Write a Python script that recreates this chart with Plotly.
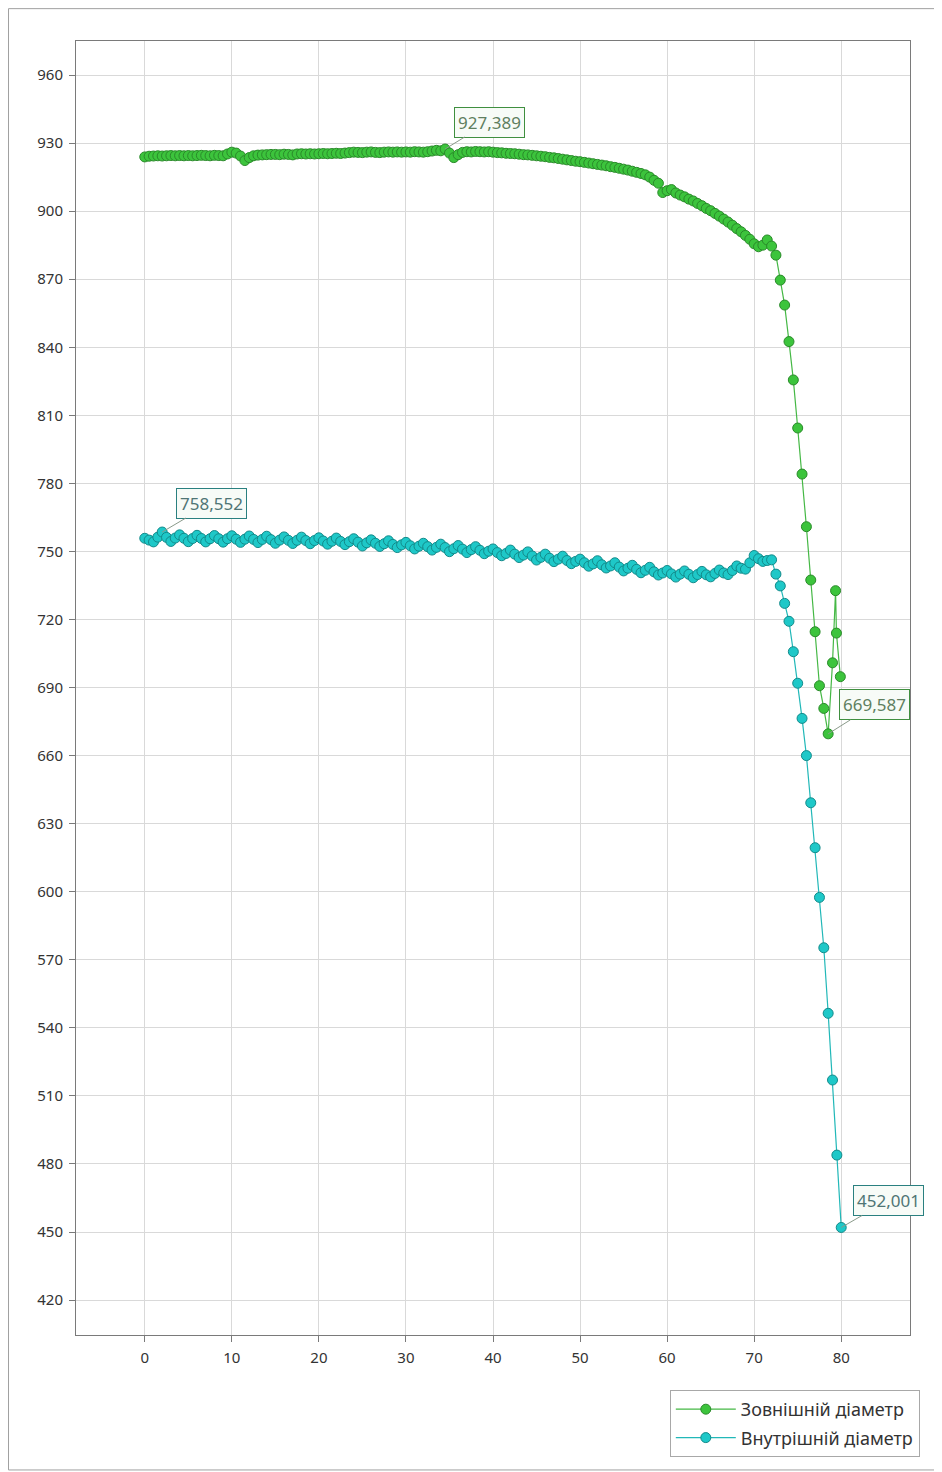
import plotly.graph_objects as go

# ---------------- data ----------------
outer_name = "Зовнішній діаметр"
inner_name = "Внутрішній діаметр"

x_outer = [i / 2 for i in range(158)] + [79.0, 79.35, 79.45, 79.9]
outer_diam = [
    923.9, 924.2, 924.3, 924.4, 924.3, 924.4, 924.5, 924.4, 924.5, 924.4,
    924.5, 924.4, 924.5, 924.6, 924.5, 924.4, 924.6, 924.5, 924.4, 925.2,
    926.0, 925.6, 924.3, 922.3, 923.6, 924.4, 924.7, 924.8, 924.9, 925.0,
    925.0, 924.9, 925.1, 925.0, 924.8, 925.2, 925.3, 925.2, 925.3, 925.2,
    925.3, 925.4, 925.3, 925.4, 925.5, 925.4, 925.6, 925.8, 926.0, 925.9,
    925.8, 926.0, 926.1, 925.9, 925.8, 926.0, 926.1, 926.0, 926.1, 926.0,
    926.1, 926.0, 926.2, 926.1, 926.0, 926.2, 926.5, 926.8, 926.6, 927.389,
    925.6, 923.6, 924.9, 925.9, 926.2, 926.1, 926.3, 926.2, 926.1, 926.2,
    926.0, 925.8, 925.7, 925.5, 925.4, 925.3, 925.1, 924.9, 924.8, 924.6,
    924.4, 924.2, 924.0, 923.7, 923.5, 923.2, 922.9, 922.6, 922.3, 922.0,
    921.8, 921.5, 921.2, 920.9, 920.6, 920.3, 920.0, 919.6, 919.3, 918.9,
    918.5, 918.1, 917.6, 917.1, 916.6, 916.0, 915.0, 913.6, 912.3, 908.2,
    909.0, 909.5, 908.0, 907.1, 906.3, 905.3, 904.5, 903.4, 902.4, 901.2,
    900.2, 899.0, 897.8, 896.5, 895.2, 893.8, 892.3, 890.9, 889.3, 887.6,
    885.6, 884.3, 885.0, 887.3, 884.6, 880.6, 869.6, 858.6, 842.5, 825.6,
    804.4, 784.1, 760.9, 737.4, 714.6, 690.8, 680.8, 669.587,
    700.9, 732.7, 714.0, 694.8,
]

x_inner = [i / 2 for i in range(161)]
inner_diam = [
    755.8, 755.0, 754.2, 756.3, 758.552, 756.2, 754.4, 755.9, 757.3, 755.8,
    754.3, 755.7, 757.1, 755.7, 754.2, 755.6, 757.0, 755.6, 754.1, 755.6,
    756.9, 755.4, 754.0, 755.4, 756.8, 755.3, 753.9, 755.3, 756.7, 755.2,
    753.6, 755.0, 756.4, 754.9, 753.5, 754.9, 756.3, 754.8, 753.4, 754.8,
    756.0, 754.6, 753.2, 754.5, 755.9, 754.4, 753.0, 754.3, 755.6, 754.1,
    752.4, 753.8, 755.1, 753.6, 752.2, 753.4, 754.7, 753.1, 751.7, 752.9,
    754.0, 752.5, 751.1, 752.3, 753.6, 752.1, 750.6, 751.8, 753.2, 751.7,
    749.9, 751.2, 752.6, 751.0, 749.5, 750.8, 752.1, 750.5, 749.0, 750.1,
    751.1, 749.5, 748.1, 749.1, 750.6, 748.8, 747.3, 748.4, 749.8, 748.0,
    746.2, 747.4, 748.8, 747.0, 745.5, 746.6, 747.9, 746.0, 744.6, 745.6,
    746.6, 745.0, 743.5, 744.5, 745.9, 744.1, 742.7, 743.6, 745.0, 743.1,
    741.4, 742.6, 743.9, 742.1, 740.6, 741.7, 743.0, 741.0, 739.6, 740.5,
    741.6, 740.1, 738.7, 740.0, 741.4, 739.9, 738.4, 739.8, 741.2, 739.7,
    738.8, 740.3, 741.8, 740.5, 739.8, 741.6, 743.6, 742.6, 742.2, 745.0,
    748.2, 746.8, 745.6, 746.0, 746.3,
    740.0, 734.8, 727.1, 719.2, 705.8, 691.9, 676.4, 660.0,
    639.2, 619.4, 597.5, 575.3, 546.4, 517.0, 483.9, 452.001,
]

x_ticks = [0, 10, 20, 30, 40, 50, 60, 70, 80]
y_ticks = list(range(420, 961, 30))

# ---------------- style ----------------
FONT = "Noto Sans"
G_LINE, G_FILL, G_EDGE = "#45b845", "#3cc43c", "#2a8a2a"
C_LINE, C_FILL, C_EDGE = "#22b8b8", "#1ec8c8", "#138a8a"

fig = go.Figure()
fig.add_trace(go.Scatter(
    x=x_outer, y=outer_diam, mode="lines+markers", name=outer_name,
    legendgroup="a",
    line=dict(color=G_LINE, width=1.2),
    marker=dict(size=10, color=G_FILL, line=dict(color=G_EDGE, width=1)),
))
fig.add_trace(go.Scatter(
    x=x_inner, y=inner_diam, mode="lines+markers", name=inner_name,
    legendgroup="b",
    line=dict(color=C_LINE, width=1.2),
    marker=dict(size=10, color=C_FILL, line=dict(color=C_EDGE, width=1)),
))


def label(xv, yv, color, txtcolor, ax, ay):
    fig.add_annotation(
        x=xv, y=yv, text=f"{yv:.3f}".replace(".", ","),
        showarrow=True, arrowhead=0, arrowwidth=1, arrowcolor="#8a9a8a",
        ax=ax, ay=ay, standoff=0, startstandoff=0,
        bgcolor="#f7fbf7", bordercolor=color, borderwidth=1, borderpad=3,
        font=dict(family=FONT, size=17, color=txtcolor),
    )


gmax = max(outer_diam)
gmin = min(outer_diam)
cmax = max(inner_diam)
cmin = min(inner_diam)
label(x_outer[outer_diam.index(gmax)], gmax, "#3f8f3f", "#5f7f5f", 44, -27)
label(x_outer[outer_diam.index(gmin)], gmin, "#3f8f3f", "#5f7f5f", 46, -29)
label(x_inner[inner_diam.index(cmax)], cmax, "#2a8080", "#4f7575", 49, -29)
label(x_inner[inner_diam.index(cmin)], cmin, "#2a8080", "#4f7575", 47, -27)

axis_common = dict(
    showgrid=True, gridcolor="#d9d9d9", gridwidth=1,
    showline=True, linecolor="#7a7a7a", linewidth=1, mirror=True,
    ticks="outside", ticklen=6, tickcolor="#7a7a7a",
    tickfont=dict(family=FONT, size=15, color="#333333"),
    ticklabelstandoff=3,
    zeroline=False,
)
fig.update_xaxes(range=[-7.9, 87.9], tickvals=x_ticks, **axis_common)
fig.update_yaxes(range=[404.6, 975], tickvals=y_ticks, **axis_common)

# outer frame of the chart
fig.add_shape(type="rect", xref="paper", yref="paper",
              x0=-0.0809, x1=1.036, y0=-0.1043, y1=1.025,
              line=dict(color="#a0a0a0", width=1), layer="below")

fig.update_layout(
    width=942, height=1472,
    margin=dict(l=68, r=40, t=33, b=145),
    plot_bgcolor="white", paper_bgcolor="white",
    font=dict(family=FONT, size=14, color="#333333"),
    showlegend=True,
    legend=dict(
        x=0.712, y=-0.0425, xanchor="left", yanchor="top",
        bgcolor="white", bordercolor="#a8a8a8", borderwidth=1,
        font=dict(family=FONT, size=18, color="#333333"),
        traceorder="grouped", tracegroupgap=2, itemwidth=60,
    ),
)

fig.write_html("out.html")
